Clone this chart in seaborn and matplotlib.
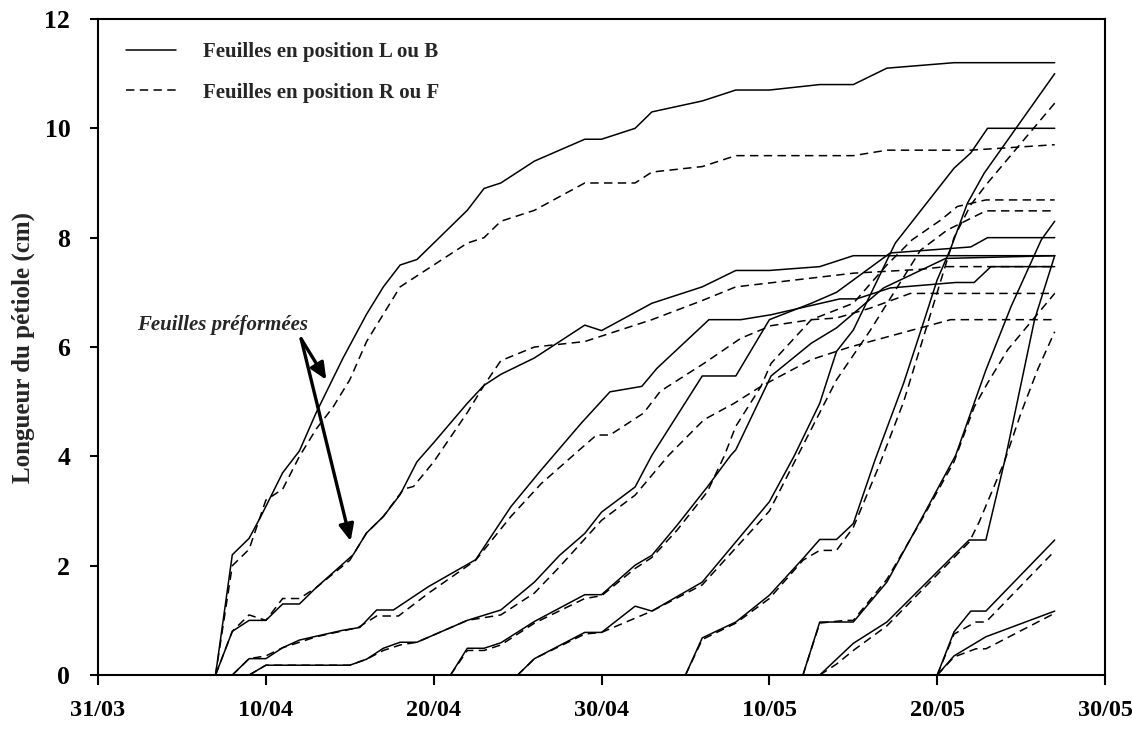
import pandas as pd
import matplotlib.pyplot as plt
import seaborn as sns
from matplotlib.lines import Line2D

# ─── DATA ───────────────────────────────────────────────────────
# x = days after 31/03, y = petiole length (cm)
# one pair of lists per leaf : "LB" = position L ou B, "RF" = position R ou F
A_LB = [(7, 0), (8, 2.2), (9, 2.5), (9.7, 2.9), (11, 3.7), (12, 4.1), (13, 4.8), (14.6, 5.8),
        (16, 6.6), (17, 7.1), (18, 7.5), (19, 7.6), (22, 8.5), (23, 8.9), (24, 9.0), (26, 9.4),
        (29, 9.8), (30, 9.8), (32, 10.0), (33, 10.3), (36, 10.5), (38, 10.7), (40, 10.7),
        (43, 10.8), (45, 10.8), (47, 11.1), (51, 11.2), (57, 11.2)]
A_RF = [(7, 0), (8, 2.0), (9, 2.3), (10, 3.2), (11, 3.4), (12, 4.0), (13, 4.5), (14, 4.9),
        (15, 5.4), (16, 6.1), (17, 6.6), (18, 7.1), (19, 7.3), (22, 7.9), (23, 8.0), (24, 8.3),
        (26, 8.5), (29, 9.0), (32, 9.0), (33, 9.2), (36, 9.3), (38, 9.5), (45, 9.5), (47, 9.6),
        (52, 9.6), (57, 9.7)]

B_LB = [(7, 0), (8, 0.8), (9, 1.0), (10, 1.0), (11, 1.3), (12, 1.3), (13, 1.6), (15.2, 2.2),
        (16, 2.6), (17, 2.9), (18, 3.3), (19, 3.9), (20, 4.25), (22, 4.97), (23, 5.3), (24, 5.5),
        (26, 5.8), (29, 6.4), (30, 6.3), (33, 6.8), (36, 7.1), (38, 7.4), (40, 7.4), (43, 7.47),
        (45, 7.67), (57, 7.67)]
B_RF = [(7, 0), (8, 0.8), (9, 1.1), (10, 1.0), (11, 1.4), (12, 1.4), (13, 1.6), (15, 2.1),
        (16, 2.6), (17, 2.9), (18.2, 3.4), (18.8, 3.45), (20, 3.9), (22, 4.8), (23, 5.3),
        (24, 5.75), (26, 6.0), (29, 6.1), (33, 6.5), (36, 6.85), (38, 7.1), (42.5, 7.26),
        (45, 7.35), (49, 7.42), (50.5, 7.47), (57, 7.47)]

C_LB = [(8, 0), (9, 0.3), (10, 0.3), (11, 0.5), (12, 0.64), (13, 0.71), (14.6, 0.82),
        (15.6, 0.87), (16.6, 1.19), (17.6, 1.19), (19.7, 1.62), (22.5, 2.11), (24.6, 3.08),
        (26.4, 3.75), (28.8, 4.61), (30.5, 5.18), (32.4, 5.28), (33.3, 5.61), (36.4, 6.5),
        (38.3, 6.5), (40.1, 6.59), (44.2, 6.88), (45.2, 6.88), (47.2, 7.08), (51.1, 7.18),
        (52.2, 7.18), (53.2, 7.47), (57, 7.47)]
C_RF = [(8, 0), (9, 0.3), (10, 0.35), (11, 0.5), (12, 0.6), (13, 0.7), (15.5, 0.87),
        (16.6, 1.08), (17.9, 1.08), (19.7, 1.5), (22.5, 2.1), (24.6, 2.9), (26.4, 3.5),
        (28.8, 4.15), (29.7, 4.39), (30.5, 4.39), (32.5, 4.79), (33.5, 5.19), (36.1, 5.7),
        (38.3, 6.16), (40.1, 6.39), (42.5, 6.5), (44, 6.53), (46, 6.71), (48.4, 6.98), (57, 6.98)]

Cp_LB = [(9, 0), (10, 0.18), (15, 0.18), (16, 0.29), (17, 0.49), (18, 0.6), (19, 0.6),
         (22, 1.0), (24, 1.19), (26, 1.7), (27.5, 2.19), (29, 2.59), (30, 2.98), (32, 3.44),
         (33, 4.02), (36, 5.47), (38, 5.47), (40, 6.5), (42.5, 6.8), (44, 7.0), (47.2, 7.72),
         (52, 7.83), (53, 8.0), (57, 8.0)]
Cp_RF = [(9, 0), (10, 0.18), (15, 0.18), (16, 0.29), (17, 0.45), (18, 0.55), (19, 0.6),
         (22, 1.0), (24, 1.1), (26, 1.5), (27.5, 1.98), (30, 2.83), (32, 3.29), (34, 4.02),
         (36.1, 4.67), (37.9, 4.97), (39.5, 5.28), (42.5, 5.77), (44.8, 6.0), (47.8, 6.25),
         (50.8, 6.5), (57, 6.5)]

D_LB = [(21, 0), (22, 0.49), (23, 0.49), (24, 0.59), (26, 0.98), (29, 1.47), (30, 1.47),
        (32, 2.01), (33, 2.19), (34.5, 2.74), (36.3, 3.44), (37.7, 4.02), (38, 4.12),
        (40.1, 5.47), (42.5, 6.07), (44, 6.35), (46.8, 7.08), (50.5, 7.62), (57, 7.67)]
D_RF = [(21, 0), (22, 0.45), (23, 0.45), (24, 0.55), (26, 0.95), (29, 1.4), (30, 1.45),
        (32, 1.95), (33, 2.15), (34.5, 2.65), (36.3, 3.35), (37.3, 4.0), (38, 4.55),
        (39.5, 5.28), (40.1, 5.7), (42.5, 6.5), (45, 6.8), (47, 7.5), (48.5, 7.96),
        (50.2, 8.32), (51.2, 8.57), (52.9, 8.69), (57, 8.69)]

E_LB = [(25, 0), (26, 0.3), (29, 0.78), (30, 0.78), (32, 1.26), (33, 1.17), (36, 1.7),
        (40, 3.17), (41.5, 4.02), (43, 4.97), (44, 5.92), (45, 6.31), (47.5, 7.9), (51, 9.27),
        (52, 9.55), (53, 10.0), (57, 10.0)]
E_RF = [(25, 0), (26, 0.3), (29, 0.75), (30, 0.78), (33, 1.17), (36, 1.65), (40, 3.0),
        (42, 4.2), (44, 5.4), (46, 6.3), (49, 7.77), (50.6, 8.14), (52.9, 8.49), (57, 8.49)]

F_LB = [(35, 0), (36, 0.68), (38, 0.97), (40, 1.46), (42, 2.13), (43, 2.48), (44, 2.48),
        (45, 2.77), (46.3, 3.94), (48, 5.34), (49.1, 6.37), (50, 7.23), (50.8, 7.8),
        (51.8, 8.63), (52.8, 9.18), (57, 11.0)]
F_RF = [(35, 0), (36, 0.65), (38, 0.95), (40, 1.4), (42, 2.1), (43, 2.28), (44, 2.28),
        (45, 2.7), (46.5, 3.8), (48, 5.0), (49, 6.0), (50, 7.0), (51, 8.0), (52, 8.6),
        (53, 9.0), (57, 10.46)]

G_LB = [(42, 0), (43, 0.97), (45, 0.97), (47, 1.7), (48.8, 2.71), (51.1, 4.02), (52.9, 5.58),
        (54.4, 6.74), (56.2, 7.96), (57, 8.3)]
G_RF = [(42, 0), (43, 0.95), (44.5, 1.0), (45, 1.0), (47, 1.75), (49, 2.8), (51, 3.9),
        (52.2, 4.9), (53, 5.34), (54.2, 5.95), (57, 6.98)]

H_LB = [(43, 0), (45, 0.58), (47, 0.97), (51.9, 2.47), (52.9, 2.47), (54.1, 4.02),
        (55.8, 6.5), (57, 7.67)]
H_RF = [(43, 0), (44, 0.2), (45, 0.45), (47, 0.9), (51.9, 2.43), (52.5, 2.8), (54, 3.9),
        (55, 4.8), (56, 5.6), (57, 6.28)]

I_LB = [(50, 0), (51, 0.79), (52, 1.17), (52.9, 1.17), (57, 2.47)]
I_RF = [(50, 0), (51, 0.75), (52.3, 0.97), (52.9, 0.97), (57, 2.27)]

J_LB = [(50, 0), (51, 0.35), (52.9, 0.7), (57, 1.17)]
J_RF = [(50, 0), (51, 0.33), (52.3, 0.48), (52.9, 0.48), (57, 1.13)]

X_TICKS = [0, 10, 20, 30, 40, 50, 60]
X_LABELS = ["31/03", "10/04", "20/04", "30/04", "10/05", "20/05", "30/05"]
Y_TICKS = [0, 2, 4, 6, 8, 10, 12]
LEGEND_LABELS = ["Feuilles en position L ou B", "Feuilles en position R ou F"]
# ────────────────────────────────────────────────────────────────

leaves = {
    "A": (A_LB, A_RF), "B": (B_LB, B_RF), "C": (C_LB, C_RF), "Cp": (Cp_LB, Cp_RF),
    "D": (D_LB, D_RF), "E": (E_LB, E_RF), "F": (F_LB, F_RF), "G": (G_LB, G_RF),
    "H": (H_LB, H_RF), "I": (I_LB, I_RF), "J": (J_LB, J_RF),
}

rows = []
for leaf, (lb, rf) in leaves.items():
    for pos, pts in (("LB", lb), ("RF", rf)):
        for d, v in pts:
            rows.append({"day": d, "length": v, "curve": f"{leaf}_{pos}", "pos": pos})
df = pd.DataFrame(rows)

sns.set_style("ticks")
plt.rcParams["font.family"] = ["Liberation Serif", "DejaVu Serif"]
plt.rcParams["font.weight"] = "bold"

fig = plt.figure(figsize=(11.32, 7.29), dpi=100)
ax = fig.add_axes([0.0866, 0.074, 0.8896, 0.900])

sns.lineplot(
    data=df, x="day", y="length", units="curve", estimator=None, sort=False,
    style="pos", dashes={"LB": "", "RF": (5.5, 3.5)}, color="black",
    linewidth=1.1, legend=False, ax=ax,
)

ax.set_xlim(0, 60)
ax.set_ylim(0, 12)
ax.set_xticks(X_TICKS)
ax.set_xticklabels(X_LABELS)
ax.set_yticks(Y_TICKS)
ax.set_xlabel("")
ax.set_ylabel("Longueur du pétiole (cm)", fontsize=18, fontweight="bold")
ax.yaxis.set_label_coords(-0.063, 0.5)

for lab in ax.get_xticklabels():
    lab.set_fontweight("bold")
    lab.set_fontsize(17.5)
for lab in ax.get_yticklabels():
    lab.set_fontweight("bold")
    lab.set_fontsize(18.5)

ax.tick_params(axis="x", direction="out", length=7, width=1.5, pad=11, colors="black")
ax.tick_params(axis="y", direction="out", length=6, width=1.5, pad=14, colors="black")
for side in ["left", "right", "top", "bottom"]:
    ax.spines[side].set_visible(True)
    ax.spines[side].set_linewidth(1.5)
    ax.spines[side].set_color("black")

handles = [
    Line2D([], [], color="black", linewidth=1.1),
    Line2D([], [], color="black", linewidth=1.1, linestyle=(0, (5.5, 3.5))),
]
ax.legend(handles, LEGEND_LABELS, loc="upper left", bbox_to_anchor=(0.017, 0.981),
          frameon=False, borderpad=0, handlelength=2.4, handletextpad=1.3,
          labelspacing=1.0, prop={"family": "Liberation Serif", "weight": "bold", "size": 15})

# annotation for the preformed leaves
ax.text(7.4, 6.4, "Feuilles préformées", fontsize=15, fontstyle="italic",
        fontweight="bold", ha="center", va="center")
arrow = dict(arrowstyle="-|>,head_length=1.0,head_width=0.45", color="black", lw=2.4,
             shrinkA=0, shrinkB=0)
ax.annotate("", xy=(13.6, 5.4), xytext=(12.1, 6.15), arrowprops=arrow)
ax.annotate("", xy=(15.05, 2.45), xytext=(12.1, 6.15), arrowprops=arrow)

fig.savefig("out.png", dpi=100)
